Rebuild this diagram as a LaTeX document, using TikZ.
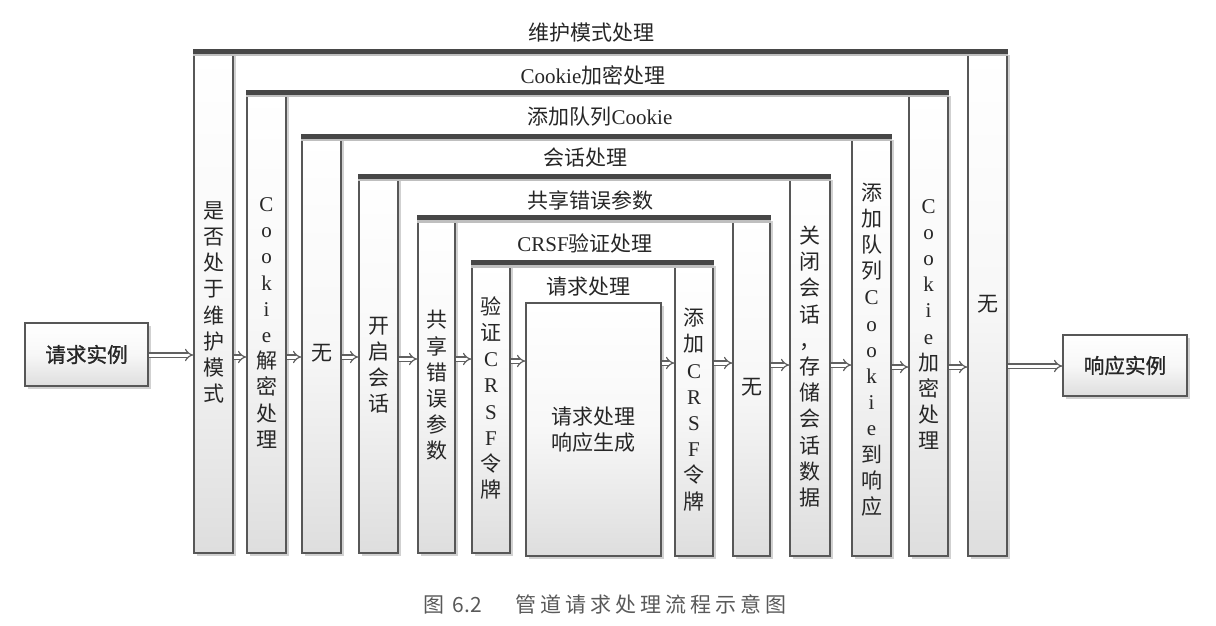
\documentclass[tikz,border=0pt]{standalone}
\usepackage{fontspec}
\setmainfont{Noto Sans CJK SC}
\newfontfamily\lat{Liberation Serif}
\newfontfamily\cjkb[FakeBold=1.2]{Noto Sans CJK SC}
\usetikzlibrary{arrows.meta,shadows,fit}
\newcommand\vc[1]{{\lat #1}}
\newcommand\csp{\hspace{2pt}}
\tikzset{
  colbox/.style={draw=black!66, line width=0.7pt, top color=white, bottom color=black!13, middle color=black!3,
    drop shadow={shadow xshift=1.6pt, shadow yshift=-1.4pt, fill=black!45, opacity=0.4},
    inner sep=0pt},
  coltext/.style={align=center, text=black!85, inner sep=0pt,
    font=\fontsize{10.5pt}{13.1pt}\selectfont},
  endtext/.style={text=black!85, inner sep=0pt, font=\cjkb\fontsize{10.3pt}{12.5pt}\selectfont},
  bar/.style={draw=black!72, line width=2.4pt},
  barsh/.style={draw=black!25, line width=1.6pt},
  lbl/.style={text=black!85, inner sep=1pt, font=\fontsize{10.5pt}{12.5pt}\selectfont},
  arr/.style={draw=black!62, line width=0.6pt, double=white, double distance=1.5pt, -{Implies[scale=2]}},
  capt/.style={text=black!65, inner sep=0pt, font=\fontsize{10.5pt}{12.5pt}\selectfont}
}
\begin{document}
\begin{tikzpicture}[x=0.5pt,y=-0.5pt]
\useasboundingbox (0,0) rectangle (1216,626);

% ---- layer 1: maintenance mode
\node[colbox, fit={(194,52)(233,553)}] (L1) {};
\node[colbox, fit={(968,52)(1007,556)}] (R1) {};
\node[coltext] (L1t) at (L1.center) {是\\否\\处\\于\\维\\护\\模\\式};
\node[coltext] (R1t) at (R1.center) {无};
\draw[barsh] ([yshift=-1.8pt]L1.north west) -- ([yshift=-1.8pt]R1.north east);
\draw[bar] (L1.north west) -- (R1.north east);
\node[lbl] (T1) at (591,33) {维护模式处理};

% ---- layer 2: cookie encryption
\node[colbox, fit={(247,93)(286,553)}] (L2) {};
\node[colbox, fit={(909,93)(948,556)}] (R2) {};
\node[coltext] (L2t) at (L2.center) {\vc{C}\\\vc{o}\\\vc{o}\\\vc{k}\\\vc{i}\\\vc{e}\\解\\密\\处\\理};
\node[coltext] (R2t) at (R2.center) {\vc{C}\\\vc{o}\\\vc{o}\\\vc{k}\\\vc{i}\\\vc{e}\\加\\密\\处\\理};
\draw[barsh] ([yshift=-1.8pt]L2.north west) -- ([yshift=-1.8pt]R2.north east);
\draw[bar] (L2.north west) -- (R2.north east);
\node[lbl] (T2) at (593,75) {{\lat Cookie}加密处理};

% ---- layer 3: queued cookies
\node[colbox, fit={(302,137)(341,553)}] (L3) {};
\node[colbox, fit={(852,137)(891,556)}] (R3) {};
\node[coltext] (L3t) at ([yshift=-4pt]L3.center) {无};
\node[coltext] (R3t) at ([yshift=-1.5pt]R3.center) {添\\加\\队\\列\\\vc{C}\\\vc{o}\\\vc{o}\\\vc{k}\\\vc{i}\\\vc{e}\\到\\响\\应};
\draw[barsh] ([yshift=-1.8pt]L3.north west) -- ([yshift=-1.8pt]R3.north east);
\draw[bar] (L3.north west) -- (R3.north east);
\node[lbl] (T3) at (600,117) {添加队列{\lat Cookie}};

% ---- layer 4: session
\node[colbox, fit={(359,177)(398,553)}] (L4) {};
\node[colbox, fit={(790,177)(830,556)}] (R4) {};
\node[coltext] (L4t) at (L4.center) {开\\启\\会\\话};
\node[coltext] (R4t) at (R4.center) {关\\闭\\会\\话\\，\\存\\储\\会\\话\\数\\据};
\draw[barsh] ([yshift=-1.8pt]L4.north west) -- ([yshift=-1.8pt]R4.north east);
\draw[bar] (L4.north west) -- (R4.north east);
\node[lbl] (T4) at (585,158) {会话处理};

% ---- layer 5: shared errors
\node[colbox, fit={(418,218)(455,553)}] (L5) {};
\node[colbox, fit={(733,218)(770,556)}] (R5) {};
\node[coltext] (L5t) at (L5.center) {共\\享\\错\\误\\参\\数};
\node[coltext] (R5t) at (R5.center) {无};
\draw[barsh] ([yshift=-1.8pt]L5.north west) -- ([yshift=-1.8pt]R5.north east);
\draw[bar] (L5.north west) -- (R5.north east);
\node[lbl] (T5) at (590,200) {共享错误参数};

% ---- layer 6: CSRF
\node[colbox, fit={(472,263)(510,553)}] (L6) {};
\node[colbox, fit={(675,263)(713,556)}] (R6) {};
\node[coltext] (L6t) at ([yshift=5pt]L6.center) {验\\证\\\vc{C}\\\vc{R}\\\vc{S}\\\vc{F}\\令\\牌};
\node[coltext] (R6t) at (R6.center) {添\\加\\\vc{C}\\\vc{R}\\\vc{S}\\\vc{F}\\令\\牌};
\draw[barsh] ([yshift=-1.8pt]L6.north west) -- ([yshift=-1.8pt]R6.north east);
\draw[bar] (L6.north west) -- (R6.north east);
\node[lbl] (T6) at (585,243) {{\lat CRSF}验证处理};

% ---- core
\node[colbox, fit={(526,303)(661,556)}] (P) {};
\node[coltext, font=\fontsize{10.5pt}{12.6pt}\selectfont] (Pt) at (P.center) {请求处理\\响应生成};
\node[lbl] (T7) at (588,287) {请求处理};

% ---- request / response
\node[colbox, fit={(25,323)(148,386)}] (In) {};
\node[colbox, fit={(1063,335)(1187,396)}] (Out) {};
\node[endtext] (Int) at (In.center) {请求实例};
\node[endtext] (Outt) at (Out.center) {响应实例};

% ---- arrows
\draw[arr] (In.east |- 0,355) -- (L1.west |- 0,355);
\draw[arr] (L1.east |- 0,357) -- (L2.west |- 0,357);
\draw[arr] (L2.east |- 0,357) -- (L3.west |- 0,357);
\draw[arr] (L3.east |- 0,357) -- (L4.west |- 0,357);
\draw[arr] (L4.east |- 0,359) -- (L5.west |- 0,359);
\draw[arr] (L5.east |- 0,359) -- (L6.west |- 0,359);
\draw[arr] (L6.east |- 0,361) -- (P.west |- 0,361);
\draw[arr] (P.east |- 0,363) -- (R6.west |- 0,363);
\draw[arr] (R6.east |- 0,363) -- (R5.west |- 0,363);
\draw[arr] (R5.east |- 0,365) -- (R4.west |- 0,365);
\draw[arr] (R4.east |- 0,365) -- (R3.west |- 0,365);
\draw[arr] (R3.east |- 0,367) -- (R2.west |- 0,367);
\draw[arr] (R2.east |- 0,367) -- (R1.west |- 0,367);
\draw[arr] (R1.east |- 0,366) -- (Out.west |- 0,366);

% ---- caption
\node[capt] (cap) at (605,604) {图\csp\csp{}6.2\hspace{1.6em}管\csp 道\csp 请\csp 求\csp 处\csp 理\csp 流\csp 程\csp 示\csp 意\csp 图};
\end{tikzpicture}
\end{document}
